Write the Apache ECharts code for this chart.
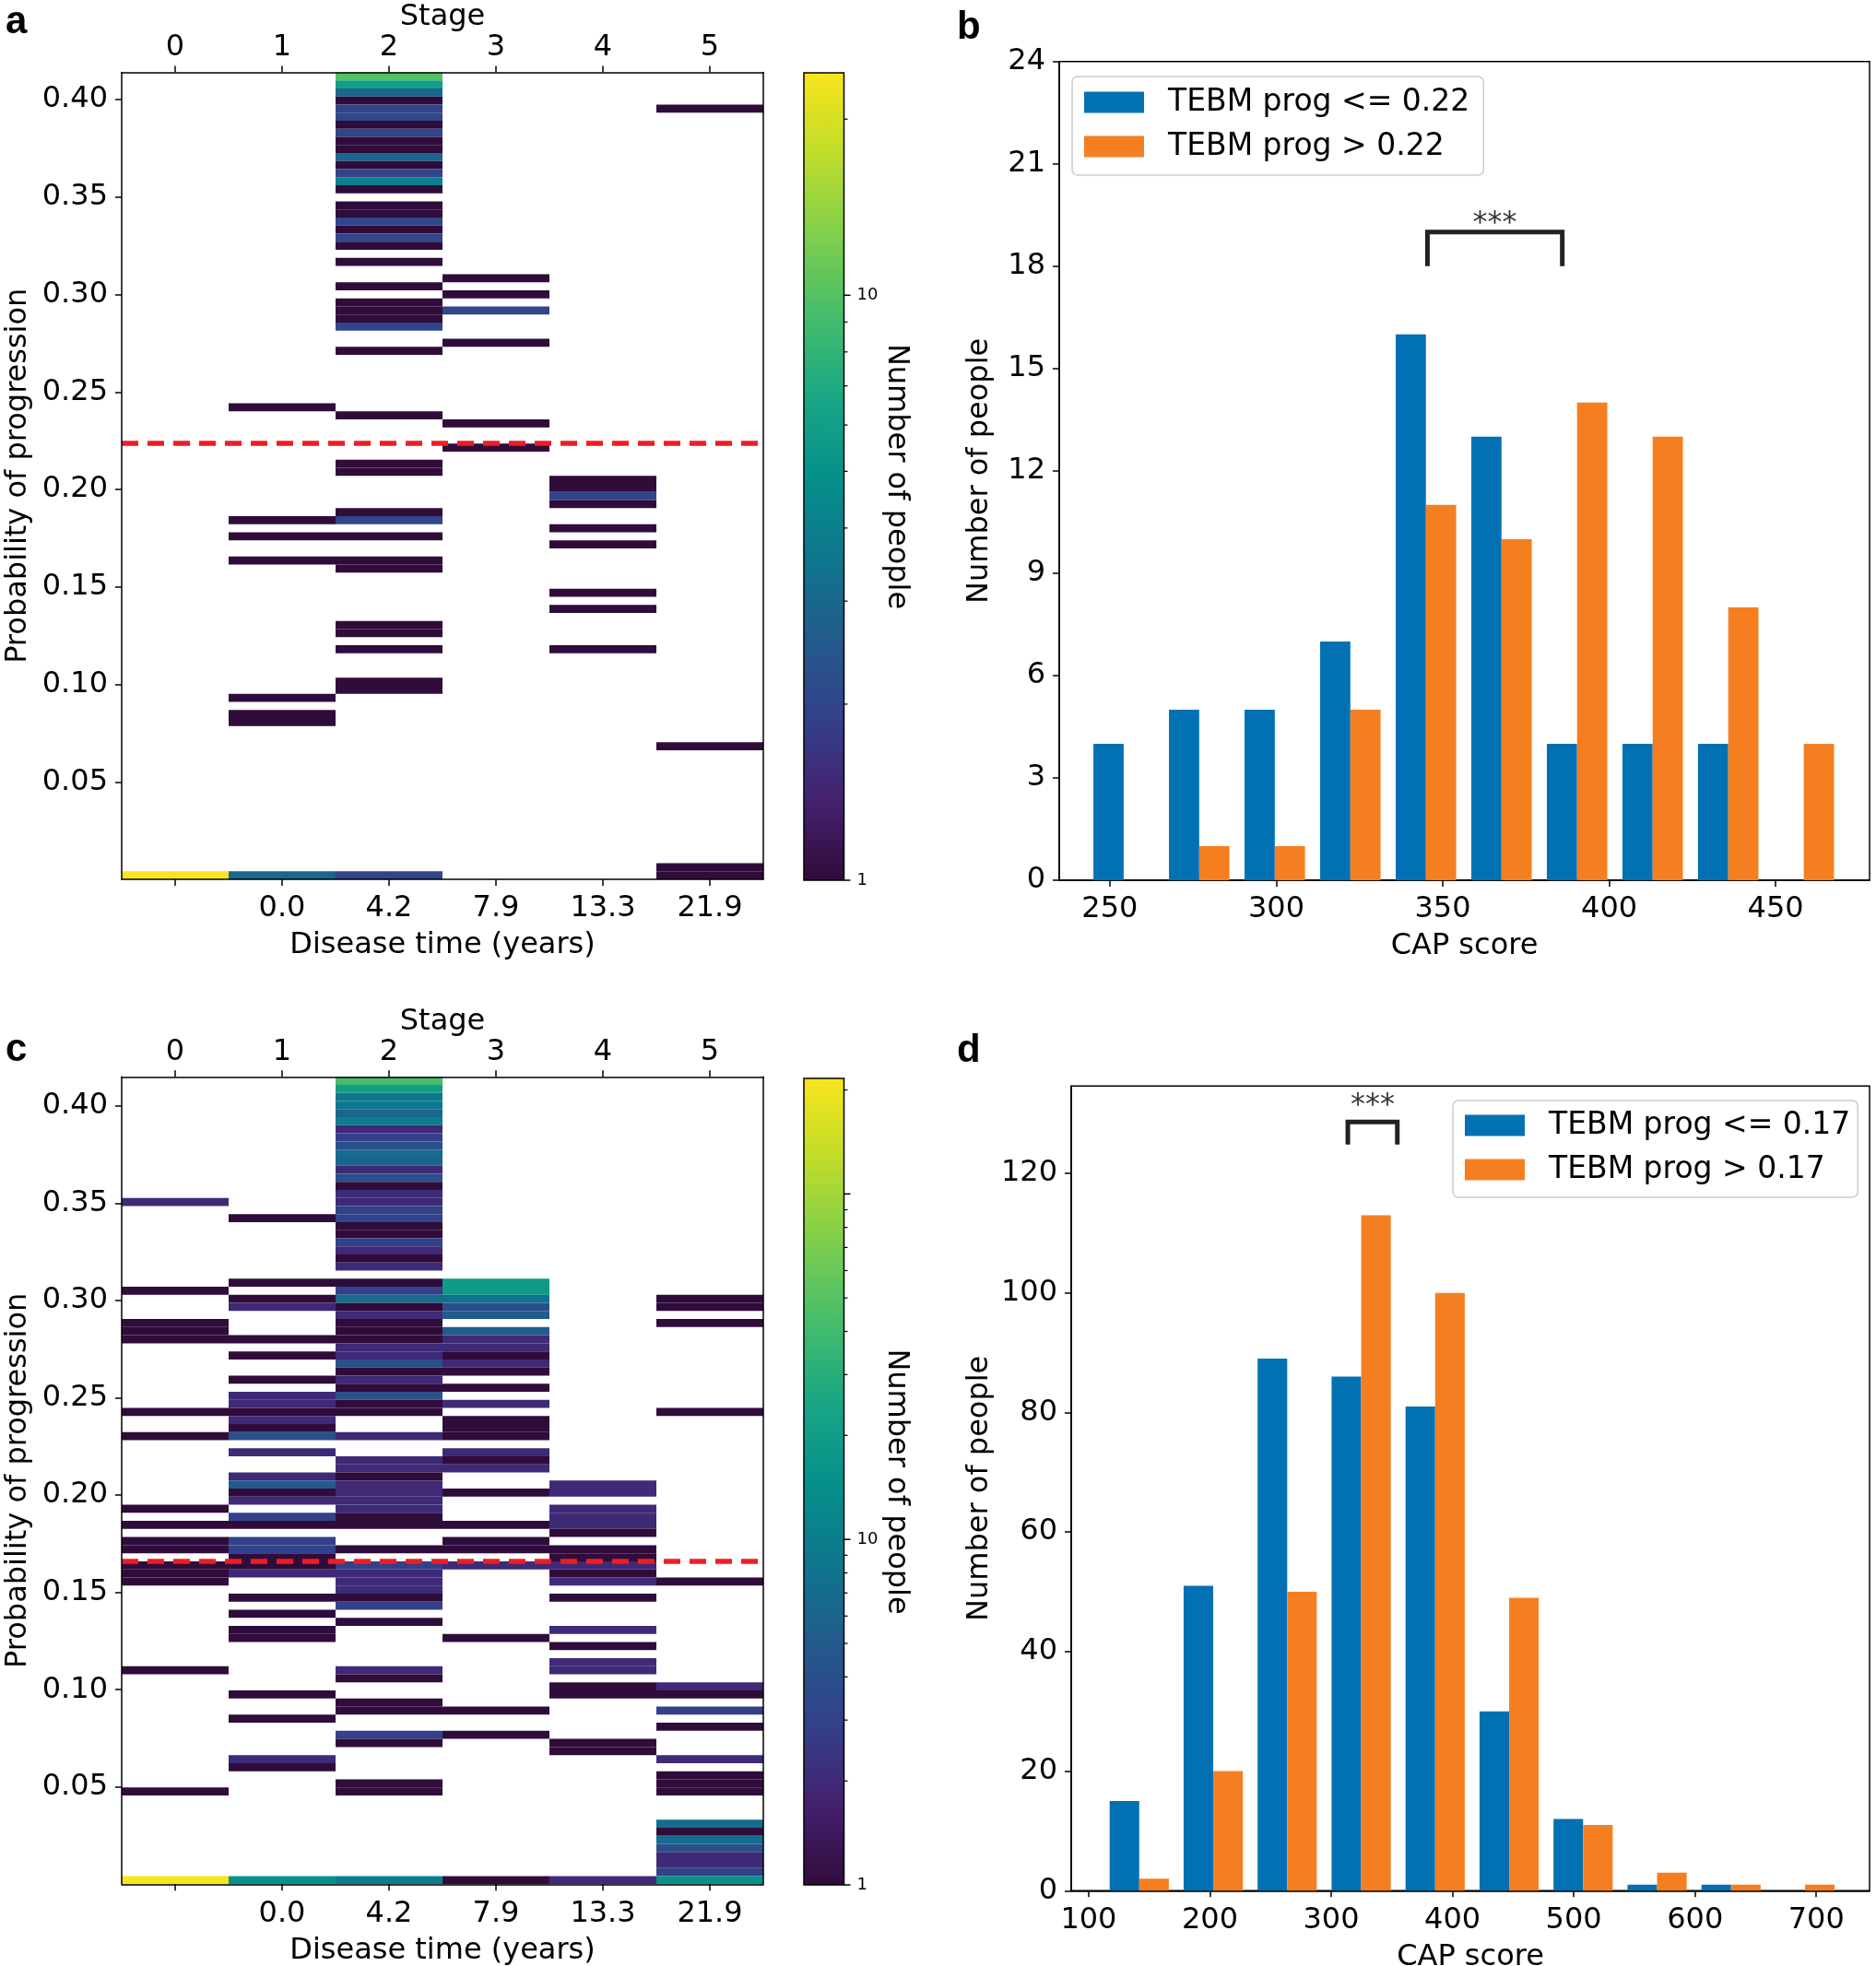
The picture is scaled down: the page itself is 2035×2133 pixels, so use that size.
<!DOCTYPE html>
<html><head><meta charset="utf-8">
<script src="https://cdn.jsdelivr.net/npm/echarts@6/dist/echarts.min.js"></script>
<style>html,body{margin:0;padding:0;background:#fff}#chart{width:2035px;height:2133px}</style>
</head><body><div id="chart"></div>
<script>
// ---------------- data ----------------
const stageLabels = ['0', '1', '2', '3', '4', '5'];
const diseaseTimeLabels = ['', '0.0', '4.2', '7.9', '13.3', '21.9'];
const probTicks = [0.05, 0.10, 0.15, 0.20, 0.25, 0.30, 0.35, 0.40];
const nProbBins = 100;
const probMaxA = 0.414, probMaxC = 0.415;
const thresholdA = 0.224, thresholdC = 0.166;
const countMaxA = 24, countMaxC = 216;
const cbMajorTicksA = [1, 10];
const cbMinorTicksA = [2, 3, 4, 5, 6, 7, 8, 9, 20];
const cbMajorTicksC = [1, 10, 100];
const cbMinorTicksC = [2, 3, 4, 5, 6, 7, 8, 9, 20, 30, 40, 50, 60, 70, 80, 90, 200];

// panel a cells per stage: [probability bin (0 = lowest), number of people]
const cellsA_stage0 = [[0, 24]];
const cellsA_stage1 = [[58, 1], [44, 1], [42, 1], [39, 1], [22, 1], [20, 1], [19, 1], [0, 3]];
const cellsA_stage2 = [[99, 10], [98, 6], [97, 3], [96, 1], [95, 2], [94, 2], [93, 1], [92, 2], [91, 1], [90, 1],
  [89, 3], [88, 1], [87, 2], [86, 4], [85, 1], [83, 1], [82, 1], [81, 2], [80, 1], [79, 2], [78, 1], [76, 1],
  [73, 1], [71, 1], [70, 1], [69, 1], [68, 2], [65, 1], [57, 1], [51, 1], [50, 1], [45, 1], [44, 2], [42, 1],
  [39, 1], [38, 1], [31, 1], [30, 1], [28, 1], [24, 1], [23, 1], [0, 2]];
const cellsA_stage3 = [[74, 1], [72, 1], [70, 2], [66, 1], [56, 1], [53, 1]];
const cellsA_stage4 = [[49, 1], [48, 1], [47, 2], [46, 1], [43, 1], [41, 1], [35, 1], [33, 1], [28, 1]];
const cellsA_stage5 = [[95, 1], [16, 1], [1, 1], [0, 1]];

// panel c cells per stage
const cellsC_stage0 = [[84, 2], [73, 1], [69, 1], [68, 1], [67, 1], [58, 1], [55, 1], [46, 1], [44, 1], [42, 1],
  [41, 1], [39, 1], [38, 1], [37, 1], [26, 1], [11, 1], [0, 216]];
const cellsC_stage1 = [[82, 1], [74, 1], [72, 1], [71, 2], [67, 1], [65, 1], [62, 1], [60, 2], [59, 2], [58, 1],
  [57, 2], [56, 1], [55, 4], [53, 2], [50, 2], [49, 5], [48, 1], [47, 2], [45, 3], [44, 1], [42, 3], [41, 3],
  [40, 1], [39, 1], [38, 2], [35, 1], [33, 1], [31, 1], [30, 1], [23, 1], [20, 1], [15, 2], [14, 1], [0, 15]];
const cellsC_stage2 = [[99, 43], [98, 21], [97, 9], [96, 9], [95, 6], [94, 10], [93, 2], [92, 3], [91, 4], [90, 7],
  [89, 6], [88, 2], [87, 4], [86, 1], [85, 2], [84, 2], [83, 3], [82, 3], [81, 1], [80, 1], [79, 3], [78, 2],
  [77, 1], [76, 2], [74, 1], [73, 3], [72, 7], [71, 1], [70, 2], [69, 1], [68, 1], [67, 1], [66, 2], [65, 2],
  [64, 4], [63, 1], [62, 2], [61, 1], [60, 4], [59, 1], [58, 1], [55, 2], [52, 2], [51, 2], [50, 1], [49, 2],
  [48, 2], [47, 2], [46, 2], [45, 1], [44, 1], [41, 1], [39, 3], [38, 2], [37, 2], [36, 2], [35, 1], [34, 3],
  [32, 1], [26, 2], [25, 1], [22, 1], [21, 1], [18, 3], [17, 1], [12, 1], [11, 1], [0, 10]];
const cellsC_stage3 = [[74, 19], [73, 19], [72, 8], [71, 4], [70, 5], [68, 5], [67, 2], [66, 2], [65, 1], [64, 2],
  [63, 1], [61, 1], [59, 2], [57, 1], [56, 1], [55, 1], [53, 2], [52, 1], [51, 2], [48, 1], [44, 1], [42, 1],
  [41, 1], [39, 2], [30, 1], [21, 1], [18, 1], [0, 1]];
const cellsC_stage4 = [[49, 2], [48, 2], [46, 2], [45, 2], [44, 2], [43, 1], [41, 1], [40, 1], [39, 2], [38, 1],
  [37, 2], [35, 1], [31, 2], [29, 1], [27, 2], [26, 2], [24, 1], [23, 1], [17, 1], [16, 1], [0, 2]];
const cellsC_stage5 = [[72, 1], [71, 1], [69, 1], [58, 1], [37, 1], [24, 2], [23, 1], [21, 3], [19, 1], [15, 2],
  [13, 1], [12, 1], [11, 1], [7, 7], [6, 1], [5, 7], [4, 4], [3, 2], [2, 2], [1, 3], [0, 15]];

// panel b histogram
const binEdgesB = [242.8, 265.5, 288.2, 310.9, 333.6, 356.3, 379.0, 401.7, 424.4, 447.1, 469.8];
const countsLowB = [4, 5, 5, 7, 16, 13, 4, 4, 4, 0];
const countsHighB = [0, 1, 1, 5, 11, 10, 14, 13, 8, 4];
const capTicksB = [250, 300, 350, 400, 450];
const peopleTicksB = [0, 3, 6, 9, 12, 15, 18, 21, 24];
const bracketB = [[345.4, 18], [345.4, 19], [385.9, 19], [385.9, 18]];
const starsB = [[365.65, 19]];

// panel d histogram
const binEdgesD = [111.2, 172.2, 233.2, 294.2, 355.2, 416.2, 477.2, 538.2, 599.2, 660.2, 721.2];
const countsLowD = [15, 51, 89, 86, 81, 30, 12, 1, 1, 0];
const countsHighD = [2, 20, 50, 113, 100, 49, 11, 3, 1, 1];
const capTicksD = [100, 200, 300, 400, 500, 600, 700];
const peopleTicksD = [0, 20, 40, 60, 80, 100, 120];
const bracketD = [[313.7, 124.8], [313.7, 128.6], [354.5, 128.6], [354.5, 124.8]];
const starsD = [[334.1, 128.6]];

// ---------------- styling ----------------
const FONT = 'DejaVu Sans';
const BLUE = '#0271b4', ORANGE = '#f57f20', RED = '#ee1d25';
const viridisStops = ['#300c3b', '#44216f', '#33408a', '#225b8c', '#0e768d', '#05908b',
  '#1aa784', '#46bd6b', '#7fcf4c', '#c0dc2a', '#f8e51c'];
const lineSt = { color: '#000', width: 1.5 };
const txt = (size) => ({ fontFamily: FONT, fontSize: size, color: '#000' });

function buildCells(stageArrays) {
  const out = [];
  stageArrays.forEach((arr, s) => arr.forEach(([bin, n]) => out.push([s, bin, n, Math.log10(n)])));
  return out;
}
const dataA = buildCells([cellsA_stage0, cellsA_stage1, cellsA_stage2, cellsA_stage3, cellsA_stage4, cellsA_stage5]);
const dataC = buildCells([cellsC_stage0, cellsC_stage1, cellsC_stage2, cellsC_stage3, cellsC_stage4, cellsC_stage5]);

function heatRender(probMax) {
  const h = probMax / nProbBins;
  return function (params, api) {
    const s = api.value(0), bin = api.value(1);
    const lo = api.coord([s, bin * h]);
    const hi = api.coord([s, (bin + 1) * h]);
    const bw = api.size([1, 0])[0];
    return { type: 'rect', shape: { x: lo[0] - bw / 2, y: hi[1], width: bw, height: lo[1] - hi[1] },
      style: { fill: api.visual('color') } };
  };
}
function gradientRender(params, api) {
  const max = api.value(1);
  const p0 = api.coord([0, 1]);
  const p1 = api.coord([1, max]);
  const stops = viridisStops.map((c, i) => ({ offset: i / (viridisStops.length - 1), color: c }));
  return { type: 'rect', shape: { x: p0[0], y: p1[1], width: p1[0] - p0[0], height: p0[1] - p1[1] },
    style: { fill: new echarts.graphic.LinearGradient(0, 1, 0, 0, stops), stroke: '#000', lineWidth: 1.5 } };
}
function cbTickRender(params, api) {
  const v = api.value(0), major = api.value(1);
  const p = api.coord([1, v]);
  const len = major ? 7 : 4;
  return { type: 'line', shape: { x1: p[0], y1: p[1], x2: p[0] + len, y2: p[1] },
    style: { stroke: '#000', lineWidth: major ? 1.5 : 1.2 } };
}
function barRender(f0, f1) {
  return function (params, api) {
    const left = api.value(0), right = api.value(1), n = api.value(2);
    if (!n) return null;
    const w = right - left;
    const p0 = api.coord([left + f0 * w, 0]);
    const p1 = api.coord([left + f1 * w, n]);
    return { type: 'rect', shape: { x: p0[0], y: p1[1], width: p1[0] - p0[0], height: p0[1] - p1[1] },
      style: { fill: api.visual('color') } };
  };
}
const histData = (edges, counts) => counts.map((n, i) => [edges[i], edges[i + 1], n]);
const tickData = (major, minor) => major.map(v => [v, 1]).concat(minor.map(v => [v, 0]));

function heatAxesX(grid) {
  return [
    { type: 'category', gridIndex: grid, position: 'bottom', data: diseaseTimeLabels, z: 10,
      axisLine: { show: true, onZero: false, lineStyle: lineSt },
      axisTick: { show: true, alignWithLabel: true, length: 7, lineStyle: lineSt },
      axisLabel: { interval: 0, margin: 16, ...txt(32) }, splitLine: { show: false },
      name: 'Disease time (years)', nameLocation: 'middle', nameGap: 56, nameTextStyle: txt(32) },
    { type: 'category', gridIndex: grid, position: 'top', data: stageLabels, z: 10,
      axisLine: { show: true, onZero: false, lineStyle: lineSt },
      axisTick: { show: true, alignWithLabel: true, length: 7, lineStyle: lineSt },
      axisLabel: { interval: 0, margin: 11, ...txt(32) }, splitLine: { show: false },
      name: 'Stage', nameLocation: 'middle', nameGap: 44, nameTextStyle: txt(32) }
  ];
}
function heatAxesY(grid, probMax) {
  return [
    { type: 'value', gridIndex: grid, position: 'left', min: 0, max: probMax, z: 10,
      axisLine: { show: true, onZero: false, lineStyle: lineSt },
      axisTick: { show: true, length: 7, lineStyle: lineSt, customValues: probTicks },
      axisLabel: { margin: 15, customValues: probTicks, formatter: v => v.toFixed(2), ...txt(32) },
      splitLine: { show: false },
      name: 'Probability of progression', nameLocation: 'middle', nameGap: 96, nameRotate: 90,
      nameTextStyle: txt(32) },
    { type: 'value', gridIndex: grid, position: 'right', min: 0, max: probMax, z: 10,
      axisLine: { show: true, onZero: false, lineStyle: lineSt },
      axisTick: { show: false }, axisLabel: { show: false }, splitLine: { show: false } }
  ];
}
function cbAxisX(grid) {
  return { type: 'value', gridIndex: grid, min: 0, max: 1, show: false };
}
function cbAxisY(grid, max, hide) {
  return { type: 'log', logBase: 10, gridIndex: grid, position: 'right', min: 1, max: max,
    axisLine: { show: false }, axisTick: { show: false }, splitLine: { show: false },
    axisLabel: { margin: 14, showMaxLabel: false, showMinLabel: true,
      formatter: v => (hide.indexOf(Math.round(v)) >= 0 ? '' : String(Math.round(v))), ...txt(18) },
    name: 'Number of people', nameLocation: 'middle', nameGap: 38, nameRotate: -90, nameTextStyle: txt(32) };
}
function barAxisX(grid, min, max, ticks) {
  return { type: 'value', gridIndex: grid, min: min, max: max,
    axisLine: { show: true, onZero: false, lineStyle: lineSt },
    axisTick: { show: true, length: 7, lineStyle: lineSt, customValues: ticks },
    axisLabel: { margin: 16, customValues: ticks, ...txt(32) },
    splitLine: { show: false },
    name: 'CAP score', nameLocation: 'middle', nameGap: 56, nameTextStyle: txt(32) };
}
function barAxisY(grid, max, ticks, gap) {
  return { type: 'value', gridIndex: grid, min: 0, max: max,
    axisLine: { show: true, onZero: false, lineStyle: lineSt },
    axisTick: { show: true, length: 7, lineStyle: lineSt, customValues: ticks },
    axisLabel: { margin: 15, customValues: ticks, ...txt(32) },
    splitLine: { show: false },
    name: 'Number of people', nameLocation: 'middle', nameGap: gap, nameRotate: 90, nameTextStyle: txt(32) };
}
function legendFor(names, left, top, pad) {
  return { data: names, orient: 'vertical', left: left, top: top, icon: 'rect', selectedMode: false,
    itemWidth: 65, itemHeight: 23, itemGap: 10, padding: pad,
    borderColor: '#cccccc', borderWidth: 1.5, borderRadius: 6, backgroundColor: 'rgba(255,255,255,0.8)',
    textStyle: { ...txt(33), lineHeight: 38, padding: [0, 0, 0, 21] } };
}

const lowB = 'TEBM prog <= 0.22', highB = 'TEBM prog > 0.22';
const lowD = 'TEBM prog <= 0.17', highD = 'TEBM prog > 0.17';

const threshLine = (value) => ({ silent: true, symbol: 'none', precision: 6, label: { show: false }, z: 5,
  lineStyle: { color: RED, type: [18, 10], width: 5.5 }, data: [{ yAxis: value }] });

const gridBase = { outerBoundsMode: 'none', containLabel: false };

const option = {
  animation: false,
  backgroundColor: '#fff',
  grid: [
    { ...gridBase, left: 132, top: 78.5, width: 696, height: 875.5 },
    { ...gridBase, left: 872, top: 79, width: 43.5, height: 876 },
    { ...gridBase, left: 1149, top: 66.7, width: 879, height: 888.3, show: true, borderColor: '#000', borderWidth: 1.5 },
    { ...gridBase, left: 132, top: 1168.3, width: 696, height: 876 },
    { ...gridBase, left: 872, top: 1170, width: 43.5, height: 875 },
    { ...gridBase, left: 1162, top: 1178.3, width: 866, height: 873, show: true, borderColor: '#000', borderWidth: 1.5 }
  ],
  xAxis: [
    ...heatAxesX(0),                       // 0,1
    cbAxisX(1),                            // 2
    barAxisX(2, 234.8, 478.2, capTicksB),  // 3
    ...heatAxesX(3),                       // 4,5
    cbAxisX(4),                            // 6
    barAxisX(5, 85.6, 743.9, capTicksD)    // 7
  ],
  yAxis: [
    ...heatAxesY(0, probMaxA),             // 0,1
    cbAxisY(1, countMaxA, []),             // 2
    barAxisY(2, 24, peopleTicksB, 70),     // 3
    ...heatAxesY(3, probMaxC),             // 4,5
    cbAxisY(4, countMaxC, [100]),          // 6
    barAxisY(5, 134.6, peopleTicksD, 83)   // 7
  ],
  visualMap: [
    { type: 'continuous', show: false, seriesIndex: 0, dimension: 3, min: 0, max: Math.log10(countMaxA),
      inRange: { color: viridisStops } },
    { type: 'continuous', show: false, seriesIndex: 9, dimension: 3, min: 0, max: Math.log10(countMaxC),
      inRange: { color: viridisStops } }
  ],
  legend: [
    legendFor([lowB, highB], 1163, 83, [9, 15, 12, 13]),
    legendFor([lowD, highD], 1576, 1194, [8, 8, 11, 13])
  ],
  series: [
    // 0 heat a
    { type: 'custom', name: 'heatA', xAxisIndex: 0, yAxisIndex: 0, data: dataA, renderItem: heatRender(probMaxA),
      encode: { x: 0, y: 1 }, z: 2, markLine: threshLine(thresholdA) },
    // 1 cb a gradient
    { type: 'custom', xAxisIndex: 2, yAxisIndex: 2, data: [[0, countMaxA]], renderItem: gradientRender },
    // 2 cb a ticks
    { type: 'custom', xAxisIndex: 2, yAxisIndex: 2, data: tickData(cbMajorTicksA, cbMinorTicksA), renderItem: cbTickRender },
    // 3,4 bars b
    { type: 'custom', name: lowB, xAxisIndex: 3, yAxisIndex: 3, data: histData(binEdgesB, countsLowB),
      renderItem: barRender(0.1, 0.5), itemStyle: { color: BLUE }, encode: { x: [0, 1], y: 2 } },
    { type: 'custom', name: highB, xAxisIndex: 3, yAxisIndex: 3, data: histData(binEdgesB, countsHighB),
      renderItem: barRender(0.5, 0.9), itemStyle: { color: ORANGE }, encode: { x: [0, 1], y: 2 } },
    // 5 bracket b
    { type: 'line', xAxisIndex: 3, yAxisIndex: 3, data: bracketB, symbol: 'none',
      lineStyle: { color: '#222', width: 5, join: 'miter', cap: 'butt' } },
    // 6 stars b
    { type: 'scatter', xAxisIndex: 3, yAxisIndex: 3, data: starsB, symbolSize: 0, silent: true,
      label: { show: true, position: 'top', distance: -7, formatter: '***', ...txt(32) } },
    // 7,8 colorbar c
    { type: 'custom', xAxisIndex: 6, yAxisIndex: 6, data: [[0, countMaxC]], renderItem: gradientRender },
    { type: 'custom', xAxisIndex: 6, yAxisIndex: 6, data: tickData(cbMajorTicksC, cbMinorTicksC), renderItem: cbTickRender },
    // 9 heat c
    { type: 'custom', name: 'heatC', xAxisIndex: 4, yAxisIndex: 4, data: dataC, renderItem: heatRender(probMaxC),
      encode: { x: 0, y: 1 }, z: 2, markLine: threshLine(thresholdC) },
    // 10,11 bars d
    { type: 'custom', name: lowD, xAxisIndex: 7, yAxisIndex: 7, data: histData(binEdgesD, countsLowD),
      renderItem: barRender(0.1, 0.5), itemStyle: { color: BLUE }, encode: { x: [0, 1], y: 2 } },
    { type: 'custom', name: highD, xAxisIndex: 7, yAxisIndex: 7, data: histData(binEdgesD, countsHighD),
      renderItem: barRender(0.5, 0.9), itemStyle: { color: ORANGE }, encode: { x: [0, 1], y: 2 } },
    // 12 bracket d
    { type: 'line', xAxisIndex: 7, yAxisIndex: 7, data: bracketD, symbol: 'none',
      lineStyle: { color: '#222', width: 5, join: 'miter', cap: 'butt' } },
    // 13 stars d
    { type: 'scatter', xAxisIndex: 7, yAxisIndex: 7, data: starsD, symbolSize: 0, silent: true,
      label: { show: true, position: 'top', distance: 2, formatter: '***', ...txt(32) } }
  ],
  graphic: [
    { type: 'text', left: 6, top: 3, style: { text: 'a', font: 'bold 42px "Liberation Sans"', fill: '#000' } },
    { type: 'text', left: 1038, top: 9, style: { text: 'b', font: 'bold 42px "Liberation Sans"', fill: '#000' } },
    { type: 'text', left: 6, top: 1118, style: { text: 'c', font: 'bold 42px "Liberation Sans"', fill: '#000' } },
    { type: 'text', left: 1038, top: 1119, style: { text: 'd', font: 'bold 42px "Liberation Sans"', fill: '#000' } }
  ]
};

const chart = echarts.init(document.getElementById('chart'));
chart.setOption(option);
</script>
</body></html>
